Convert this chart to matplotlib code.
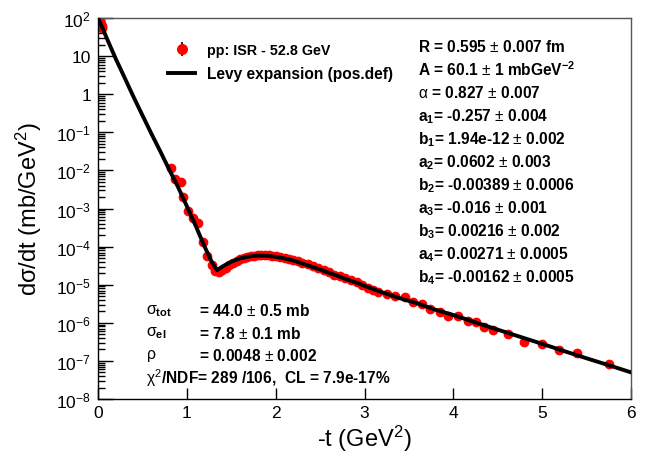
import numpy as np
import matplotlib
matplotlib.use('Agg')
import matplotlib.pyplot as plt
from matplotlib.ticker import LogLocator, NullFormatter

plt.rcParams['font.family'] = 'Liberation Sans'
plt.rcParams['mathtext.fontset'] = 'custom'
plt.rcParams['mathtext.rm'] = 'Liberation Sans'
plt.rcParams['mathtext.it'] = 'Liberation Sans'
plt.rcParams['mathtext.bf'] = 'Liberation Sans:bold'

# measured points, pp ISR 52.8 GeV
t_data = [0.002, 0.006, 0.010, 0.014, 0.018, 0.022, 0.026, 0.030, 0.036, 0.042, 0.048,
          0.82, 0.87, 0.93, 0.96, 1.01, 1.07, 1.13, 1.18, 1.23, 1.28, 1.32, 1.36, 1.40,
          1.44, 1.48, 1.52, 1.56, 1.60, 1.64, 1.68, 1.72, 1.76, 1.80, 1.84, 1.88, 1.92,
          1.96, 2.00, 2.05, 2.10, 2.15, 2.20, 2.25, 2.30, 2.36, 2.42, 2.48, 2.54, 2.60,
          2.66, 2.72, 2.78, 2.85, 2.91, 2.97, 3.04, 3.10, 3.15, 3.25, 3.34, 3.46, 3.55,
          3.65, 3.74, 3.85, 3.94, 4.05, 4.16, 4.25, 4.35, 4.45, 4.61, 4.80, 5.00, 5.19,
          5.39, 5.75]
y_data = [96, 92, 88, 84, 80, 76, 73, 69, 64, 60, 56,
          1.16e-2, 5.9e-3, 5.0e-3, 2.0e-3, 8.6e-4, 5.6e-4, 4.2e-4, 1.32e-4, 5.7e-5, 3.3e-5,
          2.3e-5, 2.2e-5, 2.5e-5,
          2.8e-5, 3.3e-5, 3.8e-5, 4.2e-5, 4.6e-5, 5.0e-5, 5.3e-5, 5.6e-5, 5.8e-5, 6.0e-5,
          6.0e-5, 6.0e-5, 5.9e-5, 5.7e-5, 5.6e-5, 5.4e-5, 5.1e-5, 4.8e-5, 4.5e-5, 4.1e-5,
          3.8e-5, 3.4e-5, 3.1e-5, 2.7e-5, 2.4e-5, 2.1e-5, 1.85e-5, 1.65e-5, 1.5e-5,
          1.33e-5, 1.15e-5, 1.0e-5, 8.2e-6, 7.2e-6, 6.4e-6, 5.7e-6, 5.0e-6, 4.75e-6,
          3.5e-6, 3.1e-6, 2.3e-6, 1.9e-6, 1.5e-6, 1.5e-6, 1.1e-6, 1.05e-6, 7.8e-7, 6.5e-7,
          5.1e-7, 3.1e-7, 2.8e-7, 1.9e-7, 1.6e-7, 8.3e-8]

# Levy expansion fit curve
t_fit = [0.01, 0.05, 0.1, 0.2, 0.3, 0.4, 0.5, 0.6, 0.7, 0.8, 0.9, 1.0, 1.1, 1.2, 1.28,
         1.34, 1.4, 1.5, 1.6, 1.7, 1.8, 1.9, 2.0, 2.1, 2.2, 2.3, 2.4, 2.5, 2.6, 2.7, 2.8,
         2.9, 3.0, 3.2, 3.4, 3.6, 3.8, 4.0, 4.25, 4.5, 4.75, 5.0, 5.25, 5.5, 5.75, 6.0]
y_fit = [90, 55, 29, 8.5, 2.7, 0.85, 0.28, 0.093, 0.032, 0.0107, 3.7e-3, 1.15e-3,
         3.5e-4, 1.0e-4, 4.0e-5, 2.4e-5, 3.0e-5, 4.0e-5, 4.9e-5, 5.5e-5, 5.8e-5, 5.75e-5,
         5.4e-5, 4.9e-5, 4.3e-5, 3.6e-5, 3.0e-5, 2.5e-5, 2.05e-5, 1.7e-5, 1.38e-5,
         1.15e-5, 9.3e-6, 6.3e-6, 4.4e-6, 3.2e-6, 2.2e-6, 1.6e-6, 1.02e-6, 6.6e-7,
         4.3e-7, 2.8e-7, 1.8e-7, 1.17e-7, 7.7e-8, 5.0e-8]

fit_params = [r'R = 0.595 $\pm$ 0.007 fm',
              r'A = 60.1 $\pm$ 1 mbGeV$^{\mathbf{-2}}$',
              r'$\alpha$ = 0.827 $\pm$ 0.007',
              r'a$_\mathbf{1}$= -0.257 $\pm$ 0.004',
              r'b$_\mathbf{1}$= 1.94e-12 $\pm$ 0.002',
              r'a$_\mathbf{2}$= 0.0602 $\pm$ 0.003',
              r'b$_\mathbf{2}$= -0.00389 $\pm$ 0.0006',
              r'a$_\mathbf{3}$= -0.016 $\pm$ 0.001',
              r'b$_\mathbf{3}$= 0.00216 $\pm$ 0.002',
              r'a$_\mathbf{4}$= 0.00271 $\pm$ 0.0005',
              r'b$_\mathbf{4}$= -0.00162 $\pm$ 0.0005']

phys_names = [r'$\sigma_{\mathbf{tot}}$', r'$\sigma_{\mathbf{el}}$', r'$\rho$']
phys_values = [r'= 44.0 $\pm$ 0.5 mb', r'= 7.8 $\pm$ 0.1 mb', r'= 0.0048 $\pm$ 0.002']
chi2_text = r'$\chi^{2}$/NDF= 289 /106,  CL = 7.9e-17%'

fig = plt.figure(figsize=(6.46, 4.56), dpi=100)
ax = fig.add_axes([98/646, 56/456, 533/646, 381/456])

eb = ax.errorbar(t_data, y_data, yerr=np.zeros(len(y_data)), fmt='o', color='red',
                 ecolor='black', elinewidth=1.2, markersize=6, zorder=2)
ln, = ax.plot(t_fit, y_fit, color='black', lw=2.8, zorder=3)

ax.set_yscale('log')
ax.set_xlim(0, 6)
ax.set_ylim(1e-8, 1e2)

ax.set_xticks([0, 1, 2, 3, 4, 5, 6])
ax.set_xticklabels(['0', '1', '2', '3', '4', '5', '6'])
ax.set_yticks([10.0**k for k in range(-8, 3)])
ax.set_yticklabels([r'$10^{%d}$' % k for k in range(-8, 0)] + ['1', '10', r'$10^{2}$'])
ax.yaxis.set_minor_locator(LogLocator(base=10, subs=np.arange(2, 10), numticks=100))
ax.yaxis.set_minor_formatter(NullFormatter())
ax.tick_params(axis='both', which='both', direction='in', labelsize=12.5,
               top=False, right=False)
ax.tick_params(axis='y', which='major', length=10.5, width=1, pad=5)
ax.tick_params(axis='y', which='minor', length=5, width=1)
ax.tick_params(axis='x', which='major', length=8, width=1, pad=4)
ax.tick_params(axis='x', which='minor', length=0)
for s in ax.spines.values():
    s.set_linewidth(1)
ax.spines['top'].set_color('#555555')
ax.spines['right'].set_color('#555555')

ax.set_xlabel(r'-t (GeV$^{2}$)', fontsize=17)
ax.xaxis.set_label_coords(0.5, -0.062)
ax.set_ylabel(r'd$\sigma$/dt (mb/GeV$^{2}$)', fontsize=17)
ax.yaxis.set_label_coords(-0.101, 0.5)

leg = ax.legend([eb, ln], ['pp: ISR - 52.8 GeV', 'Levy expansion (pos.def)'],
                loc='upper left', bbox_to_anchor=((168 - 98) / 533, (400 - 44) / 381),
                frameon=False, borderpad=0, borderaxespad=0, handlelength=1.9,
                handletextpad=0.8, labelspacing=0.65, markerscale=1.15,
                prop={'weight': 'bold', 'size': 10.3})
leg.get_texts()[1].set_fontsize(11.2)

x0 = (418 - 98) / 533
for i, s in enumerate(fit_params):
    ax.text(x0, (400 - 47 - 23.1 * i) / 381, s, transform=ax.transAxes,
            fontsize=11.2, fontweight='bold', ha='left', va='center')

for i, (n, v) in enumerate(zip(phys_names, phys_values)):
    yy = (400 - 311 - 22.6 * i) / 381
    ax.text((146 - 98) / 533, yy, n, transform=ax.transAxes, fontsize=11.5,
            ha='left', va='center')
    ax.text((199 - 98) / 533, yy, v, transform=ax.transAxes, fontsize=11.2,
            fontweight='bold', ha='left', va='center')
ax.text((146 - 98) / 533, (400 - 378) / 381, chi2_text, transform=ax.transAxes,
        fontsize=11.2, fontweight='bold', ha='left', va='center')

fig.savefig('out.png', dpi=100)
